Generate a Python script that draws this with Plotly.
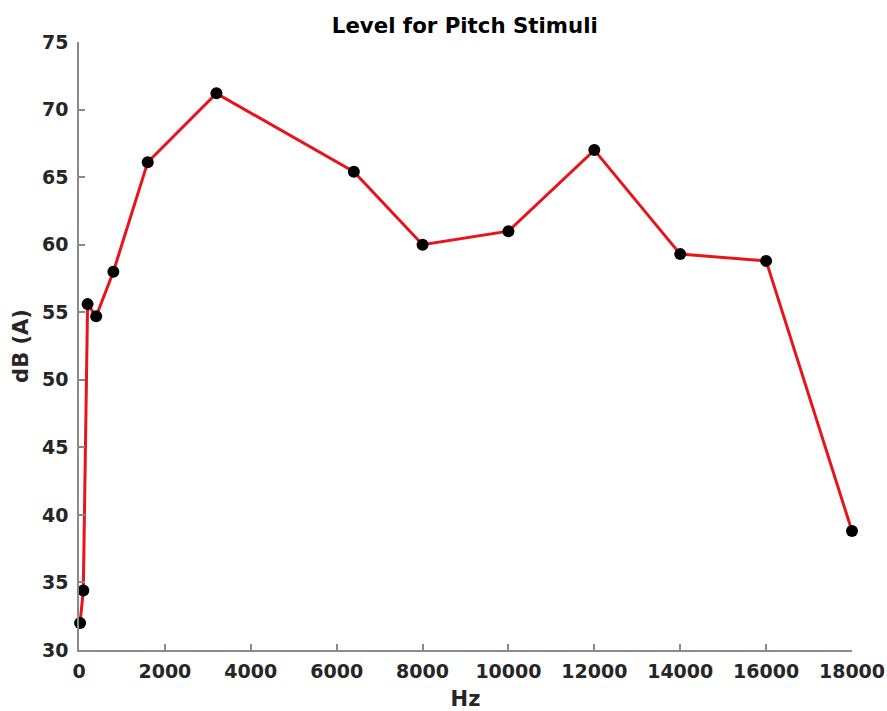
import plotly.graph_objects as go

hz = [25, 100, 200, 400, 800, 1600, 3200, 6400, 8000, 10000, 12000, 14000, 16000, 18000]
db = [32.0, 34.4, 55.6, 54.7, 58.0, 66.1, 71.2, 65.4, 60.0, 61.0, 67.0, 59.3, 58.8, 38.8]

x_ticks = [0, 2000, 4000, 6000, 8000, 10000, 12000, 14000, 16000, 18000]
y_ticks = [30, 35, 40, 45, 50, 55, 60, 65, 70, 75]

font = "DejaVu Sans"

fig = go.Figure()
fig.add_trace(go.Scatter(
    x=hz, y=db, mode="lines+markers",
    line=dict(color="#e8141c", width=3),
    marker=dict(color="black", size=12),
    showlegend=False, cliponaxis=False,
))

axis_common = dict(
    showgrid=False, zeroline=False, showline=True, linecolor="#8a8a8a", linewidth=1.5,
    ticks="inside", ticklen=6, tickcolor="#8a8a8a", tickwidth=1.5,
    tickfont=dict(family=font, size=19, color="#262626", weight="bold"),
    automargin=False,
)

fig.update_layout(
    width=887, height=711,
    paper_bgcolor="white", plot_bgcolor="white",
    margin=dict(l=79, r=35, t=42, b=61),
    title=dict(text="<b>Level for Pitch Stimuli</b>", x=0.524, xanchor="center", y=0.964, yanchor="middle",
               font=dict(family=font, size=21.3, color="black")),
    xaxis=dict(range=[0, 18000], tickvals=x_ticks, ticktext=[str(v) for v in x_ticks],
               title=dict(text="<b>Hz</b>", font=dict(family=font, size=21, color="#262626"), standoff=17),
               ticklabelstandoff=3, **axis_common),
    yaxis=dict(range=[30, 75], tickvals=y_ticks, ticktext=[str(v) for v in y_ticks],
               title=dict(text="<b>dB (A)</b>", font=dict(family=font, size=21, color="#262626"), standoff=8),
               ticklabelstandoff=5, **axis_common),
)
fig.write_html("out.html", config={"displayModeBar": False},
               post_script="document.body.style.margin='0';")
